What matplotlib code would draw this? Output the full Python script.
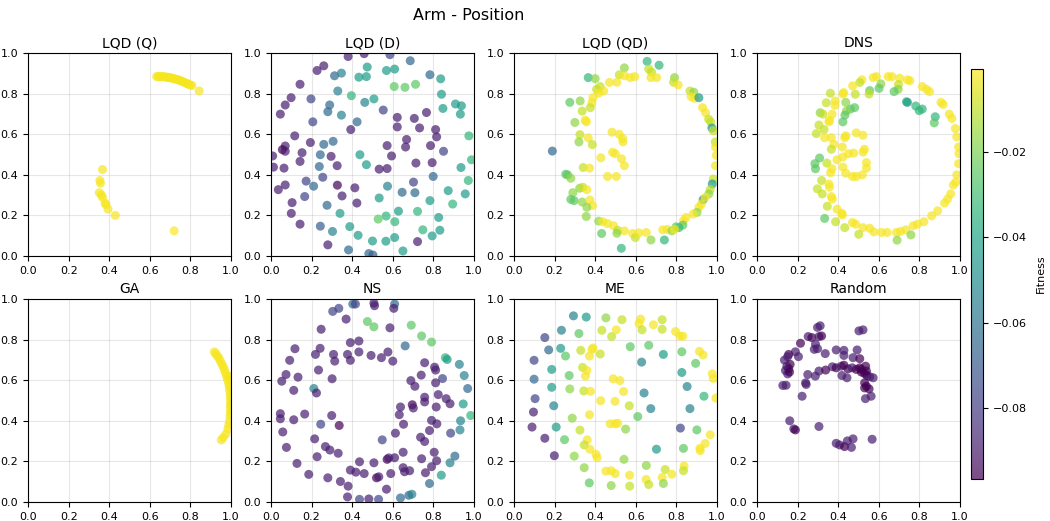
import numpy as np
import matplotlib
matplotlib.use("Agg")
from matplotlib import pyplot as plt

# fitness levels used for the archive points
Y, YG, LG, G, GT = -0.002, -0.009, -0.017, -0.025, -0.034
T, BT, B, V, P, DP = -0.044, -0.054, -0.064, -0.077, -0.089, -0.0965

titles = ["LQD (Q)", "LQD (D)", "LQD (QD)", "DNS", "GA", "NS", "ME", "Random"]

lqd_q = [
    (0.634, 0.884, Y), (0.642, 0.885, Y), (0.650, 0.884, Y), (0.658, 0.884, Y),
    (0.665, 0.883, Y), (0.672, 0.883, Y), (0.680, 0.882, Y), (0.688, 0.880, Y),
    (0.695, 0.879, Y), (0.702, 0.878, Y), (0.710, 0.876, Y), (0.718, 0.874, Y),
    (0.725, 0.872, Y), (0.732, 0.870, Y), (0.740, 0.868, Y), (0.748, 0.865, Y),
    (0.755, 0.862, Y), (0.762, 0.859, Y), (0.770, 0.856, Y), (0.778, 0.852, Y),
    (0.785, 0.849, Y), (0.792, 0.846, Y), (0.800, 0.842, Y), (0.807, 0.840, Y),
    (0.843, 0.813, Y),
    (0.367, 0.426, Y), (0.354, 0.372, Y), (0.357, 0.359, Y), (0.351, 0.312, Y),
    (0.362, 0.300, Y), (0.367, 0.289, Y), (0.380, 0.260, Y), (0.384, 0.253, Y),
    (0.394, 0.231, Y), (0.430, 0.200, Y), (0.720, 0.124, -0.0007),
]

lqd_d = [
    (0.380, 0.983, P), (0.459, 0.997, P), (0.586, 0.992, V), (0.686, 0.962, B),
    (0.227, 0.914, P), (0.260, 0.937, P), (0.313, 0.888, B), (0.347, 0.901, BT),
    (0.474, 0.931, T), (0.433, 0.881, T), (0.470, 0.884, T), (0.569, 0.914, T),
    (0.609, 0.921, T), (0.783, 0.893, B), (0.836, 0.873, T), (0.143, 0.846, P),
    (0.329, 0.813, BT), (0.396, 0.790, GT), (0.607, 0.835, G), (0.660, 0.831, G),
    (0.712, 0.846, G), (0.840, 0.797, T), (0.099, 0.780, P), (0.197, 0.774, V),
    (0.462, 0.757, BT), (0.507, 0.774, T), (0.070, 0.744, P), (0.289, 0.744, B),
    (0.280, 0.711, B), (0.347, 0.694, BT), (0.553, 0.719, V), (0.766, 0.707, P),
    (0.847, 0.727, T), (0.909, 0.749, T), (0.938, 0.740, T), (0.933, 0.699, T),
    (0.046, 0.699, P), (0.622, 0.683, P), (0.706, 0.678, P), (0.206, 0.661, V),
    (0.424, 0.661, B), (0.393, 0.623, P), (0.622, 0.636, P), (0.732, 0.631, P),
    (0.811, 0.623, P), (0.816, 0.587, P), (0.117, 0.592, P), (0.975, 0.592, GT),
    (0.194, 0.559, P), (0.260, 0.550, B), (0.306, 0.565, B), (0.668, 0.574, P),
    (0.663, 0.537, P), (0.572, 0.544, P), (0.786, 0.544, P), (0.850, 0.516, V),
    (0.070, 0.542, P), (0.056, 0.524, DP), (0.070, 0.516, P), (0.153, 0.509, P),
    (0.008, 0.493, P), (0.243, 0.499, B), (0.296, 0.491, P), (0.438, 0.499, T),
    (0.594, 0.493, P), (0.988, 0.474, GT), (0.012, 0.438, P), (0.064, 0.433, P),
    (0.143, 0.466, P), (0.238, 0.441, B), (0.326, 0.445, P), (0.470, 0.450, T),
    (0.533, 0.428, P), (0.572, 0.431, P), (0.714, 0.458, P), (0.794, 0.460, P),
    (0.936, 0.436, T), (0.799, 0.392, B), (0.255, 0.388, V), (0.173, 0.369, V),
    (0.972, 0.372, GT), (0.070, 0.350, P), (0.036, 0.327, P), (0.210, 0.344, B),
    (0.327, 0.349, DP), (0.413, 0.336, P), (0.574, 0.344, BT), (0.702, 0.364, V),
    (0.646, 0.314, B), (0.709, 0.312, B), (0.350, 0.296, P), (0.166, 0.293, V),
    (0.533, 0.286, T), (0.873, 0.322, T), (0.957, 0.306, T), (0.783, 0.273, T),
    (0.104, 0.263, P), (0.423, 0.261, P), (0.895, 0.256, GT), (0.276, 0.250, B),
    (0.100, 0.210, P), (0.340, 0.210, T), (0.628, 0.221, T), (0.722, 0.220, GT),
    (0.567, 0.197, GT), (0.528, 0.182, G), (0.143, 0.157, P), (0.243, 0.147, -0.068),
    (0.610, 0.169, GT), (0.826, 0.190, T), (0.388, 0.145, T), (0.303, 0.121, BT),
    (0.748, 0.129, GT), (0.832, 0.127, T), (0.429, 0.102, T), (0.794, 0.099, T),
    (0.609, 0.091, T), (0.280, 0.055, P), (0.500, 0.074, T), (0.566, 0.073, T),
    (0.722, 0.071, P), (0.382, 0.030, B), (0.482, 0.012, B), (0.502, 0.005, -0.068),
    (0.650, 0.025, T),
]

lqd_qd = [
    (0.656, 0.959, GT), (0.715, 0.940, GT), (0.544, 0.927, LG), (0.366, 0.879, GT),
    (0.400, 0.874, LG), (0.664, 0.921, YG), (0.678, 0.906, YG), (0.519, 0.893, YG),
    (0.544, 0.888, Y), (0.573, 0.879, Y), (0.595, 0.884, Y), (0.675, 0.879, Y),
    (0.703, 0.879, Y), (0.791, 0.879, LG), (0.786, 0.856, YG), (0.809, 0.843, Y),
    (0.507, 0.856, Y), (0.470, 0.855, Y), (0.425, 0.835, YG), (0.407, 0.821, YG),
    (0.442, 0.813, Y), (0.417, 0.802, Y), (0.867, 0.813, YG), (0.886, 0.807, LG),
    (0.873, 0.785, Y), (0.890, 0.777, Y), (0.911, 0.780, T), (0.275, 0.757, G),
    (0.326, 0.764, LG), (0.389, 0.780, Y), (0.384, 0.755, Y), (0.376, 0.731, YG),
    (0.336, 0.714, YG), (0.929, 0.731, Y), (0.944, 0.706, Y), (0.959, 0.674, YG),
    (0.969, 0.661, YG), (0.351, 0.669, Y), (0.357, 0.661, Y), (0.300, 0.658, LG),
    (0.975, 0.631, T), (0.982, 0.617, YG), (0.483, 0.610, Y), (0.519, 0.600, Y),
    (0.535, 0.579, Y), (0.537, 0.562, Y), (0.325, 0.598, YG), (0.366, 0.582, Y),
    (0.320, 0.562, LG), (0.386, 0.549, YG), (0.992, 0.562, YG), (0.993, 0.537, Y),
    (0.189, 0.517, B), (0.486, 0.511, Y), (0.499, 0.504, Y), (0.997, 0.496, Y),
    (0.428, 0.484, Y), (0.530, 0.479, Y), (0.544, 0.445, Y), (0.993, 0.445, Y),
    (0.341, 0.436, YG), (0.372, 0.433, Y), (0.255, 0.403, G), (0.264, 0.400, G),
    (0.280, 0.383, LG), (0.461, 0.392, Y), (0.504, 0.392, Y), (0.982, 0.379, YG),
    (0.977, 0.355, T), (0.967, 0.327, YG), (0.960, 0.306, LG), (0.324, 0.334, LG),
    (0.339, 0.339, YG), (0.359, 0.327, Y), (0.290, 0.312, LG), (0.280, 0.279, G),
    (0.296, 0.273, G), (0.336, 0.266, LG), (0.374, 0.276, Y), (0.387, 0.248, Y),
    (0.359, 0.240, LG), (0.932, 0.278, T), (0.942, 0.289, Y), (0.923, 0.256, Y),
    (0.911, 0.240, Y), (0.902, 0.215, LG), (0.883, 0.207, Y), (0.356, 0.195, LG),
    (0.848, 0.190, Y), (0.835, 0.174, Y), (0.832, 0.152, G), (0.812, 0.140, GT),
    (0.799, 0.144, G), (0.417, 0.172, LG), (0.438, 0.169, Y), (0.461, 0.160, Y),
    (0.491, 0.149, Y), (0.511, 0.127, YG), (0.544, 0.124, Y), (0.507, 0.112, LG),
    (0.432, 0.111, G), (0.585, 0.111, Y), (0.598, 0.091, YG), (0.615, 0.114, Y),
    (0.652, 0.116, Y), (0.675, 0.079, LG), (0.741, 0.079, GT), (0.733, 0.129, Y),
    (0.755, 0.131, Y), (0.778, 0.124, LG), (0.791, 0.131, Y), (0.529, 0.038, GT),
]

dns = [
    (0.572, 0.879, Y), (0.588, 0.884, Y), (0.646, 0.884, Y), (0.665, 0.884, Y),
    (0.703, 0.876, Y), (0.741, 0.868, Y), (0.753, 0.864, Y), (0.517, 0.868, Y),
    (0.506, 0.855, YG), (0.471, 0.838, Y), (0.610, 0.848, LG), (0.601, 0.826, G),
    (0.697, 0.845, YG), (0.695, 0.821, LG), (0.675, 0.810, G), (0.814, 0.835, Y),
    (0.835, 0.821, Y), (0.850, 0.810, Y), (0.361, 0.802, YG), (0.427, 0.805, Y),
    (0.423, 0.798, Y), (0.484, 0.797, YG), (0.555, 0.815, G), (0.552, 0.798, YG),
    (0.736, 0.760, GT), (0.741, 0.757, T), (0.782, 0.739, GT), (0.799, 0.716, GT),
    (0.814, 0.724, GT), (0.906, 0.757, Y), (0.917, 0.747, Y), (0.385, 0.764, Y),
    (0.341, 0.755, YG), (0.384, 0.742, Y), (0.437, 0.757, LG), (0.481, 0.731, G),
    (0.460, 0.724, G), (0.440, 0.714, LG), (0.311, 0.706, LG), (0.325, 0.699, YG),
    (0.370, 0.699, Y), (0.433, 0.694, G), (0.947, 0.699, Y), (0.960, 0.678, Y),
    (0.423, 0.661, G), (0.357, 0.669, Y), (0.354, 0.661, Y), (0.878, 0.686, GT),
    (0.873, 0.656, G), (0.305, 0.645, YG), (0.330, 0.623, YG), (0.977, 0.628, Y),
    (0.984, 0.587, Y), (0.292, 0.603, YG), (0.489, 0.607, Y), (0.522, 0.595, Y),
    (0.437, 0.592, Y), (0.432, 0.583, Y), (0.333, 0.583, Y), (0.366, 0.583, Y),
    (0.379, 0.550, Y), (0.366, 0.526, YG), (0.420, 0.537, Y), (0.529, 0.526, Y),
    (0.522, 0.512, Y), (0.993, 0.537, Y), (0.995, 0.504, Y), (0.451, 0.504, Y),
    (0.476, 0.507, Y), (0.423, 0.488, Y), (0.308, 0.483, G), (0.394, 0.474, Y),
    (0.285, 0.455, G), (0.344, 0.458, YG), (0.288, 0.430, G), (0.369, 0.430, Y),
    (0.423, 0.438, Y), (0.539, 0.460, Y), (0.539, 0.433, Y), (0.993, 0.455, Y),
    (0.362, 0.410, Y), (0.437, 0.408, Y), (0.470, 0.392, Y), (0.489, 0.392, Y),
    (0.519, 0.400, Y), (0.984, 0.400, Y), (0.318, 0.372, YG), (0.979, 0.364, Y),
    (0.967, 0.350, Y), (0.354, 0.354, Y), (0.357, 0.339, Y), (0.297, 0.331, YG),
    (0.321, 0.306, YG), (0.954, 0.306, Y), (0.939, 0.281, Y), (0.924, 0.261, Y),
    (0.366, 0.293, Y), (0.371, 0.281, Y), (0.346, 0.245, YG), (0.394, 0.231, Y),
    (0.418, 0.210, Y), (0.420, 0.202, Y), (0.890, 0.223, Y), (0.860, 0.198, Y),
    (0.333, 0.185, G), (0.387, 0.169, YG), (0.470, 0.165, Y), (0.486, 0.157, Y),
    (0.432, 0.140, YG), (0.522, 0.140, Y), (0.555, 0.137, Y), (0.575, 0.119, Y),
    (0.613, 0.116, Y), (0.641, 0.116, Y), (0.687, 0.116, Y), (0.707, 0.121, Y),
    (0.733, 0.129, Y), (0.769, 0.149, Y), (0.791, 0.157, Y), (0.822, 0.169, Y),
    (0.501, 0.107, YG), (0.690, 0.078, LG), (0.758, 0.104, LG),
]

ga = [
    (0.918, 0.739, Y), (0.925, 0.730, Y), (0.932, 0.720, Y), (0.940, 0.710, Y),
    (0.947, 0.695, Y), (0.955, 0.680, Y), (0.961, 0.667, Y), (0.967, 0.653, Y),
    (0.972, 0.637, Y), (0.978, 0.620, Y), (0.983, 0.603, Y), (0.988, 0.587, Y),
    (0.991, 0.570, Y), (0.993, 0.550, Y), (0.996, 0.530, Y), (0.997, 0.510, Y),
    (0.998, 0.490, Y), (0.997, 0.470, Y), (0.997, 0.450, Y), (0.995, 0.425, Y),
    (0.993, 0.400, Y), (0.989, 0.380, Y), (0.985, 0.360, Y), (0.975, 0.335, Y),
    (0.962, 0.318, Y), (0.952, 0.306, Y), (0.999, 0.600, Y), (0.999, 0.560, Y),
    (1.000, 0.520, Y), (1.000, 0.480, Y), (0.999, 0.440, Y), (0.990, 0.620, Y),
]

ns = [
    (0.403, 0.975, B), (0.416, 0.975, V), (0.507, 0.980, P), (0.510, 0.967, P),
    (0.609, 0.975, B), (0.605, 0.954, P), (0.334, 0.954, V), (0.304, 0.939, V),
    (0.370, 0.901, P), (0.475, 0.889, G), (0.507, 0.863, G), (0.586, 0.858, P),
    (0.691, 0.871, G), (0.742, 0.818, G), (0.791, 0.788, G), (0.247, 0.851, P),
    (0.391, 0.785, P), (0.433, 0.793, P), (0.661, 0.769, B), (0.118, 0.755, P),
    (0.242, 0.757, P), (0.219, 0.727, P), (0.308, 0.727, P), (0.377, 0.727, P),
    (0.433, 0.739, P), (0.493, 0.722, P), (0.544, 0.711, P), (0.576, 0.739, P),
    (0.092, 0.698, P), (0.314, 0.694, P), (0.391, 0.698, P), (0.600, 0.694, P),
    (0.859, 0.711, GT), (0.868, 0.702, T), (0.757, 0.686, P), (0.806, 0.664, P),
    (0.811, 0.650, P), (0.928, 0.678, BT), (0.234, 0.650, P), (0.074, 0.628, P),
    (0.133, 0.615, P), (0.740, 0.625, P), (0.845, 0.608, V), (0.952, 0.623, BT),
    (0.053, 0.595, P), (0.301, 0.607, P), (0.689, 0.598, P), (0.709, 0.570, P),
    (0.811, 0.587, P), (0.969, 0.559, B), (0.112, 0.550, P), (0.211, 0.559, BT),
    (0.224, 0.537, P), (0.824, 0.529, P), (0.757, 0.516, P), (0.757, 0.493, P),
    (0.863, 0.509, P), (0.882, 0.484, P), (0.947, 0.483, T), (0.638, 0.468, P),
    (0.696, 0.479, DP), (0.701, 0.463, P), (0.814, 0.468, P), (0.046, 0.435, P),
    (0.046, 0.410, P), (0.166, 0.433, P), (0.299, 0.426, P), (0.632, 0.430, P),
    (0.984, 0.426, GT), (0.112, 0.405, P), (0.245, 0.383, V), (0.336, 0.377, DP),
    (0.653, 0.383, P), (0.791, 0.402, P), (0.817, 0.385, P), (0.934, 0.400, BT),
    (0.058, 0.345, P), (0.613, 0.339, P), (0.781, 0.352, P), (0.885, 0.339, V),
    (0.931, 0.355, BT), (0.215, 0.311, P), (0.548, 0.306, V), (0.737, 0.319, P),
    (0.757, 0.298, P), (0.076, 0.269, P), (0.268, 0.273, P), (0.290, 0.256, P),
    (0.331, 0.240, P), (0.651, 0.245, P), (0.804, 0.245, P), (0.227, 0.223, P),
    (0.742, 0.213, P), (0.816, 0.203, P), (0.906, 0.226, B), (0.882, 0.193, BT),
    (0.128, 0.190, P), (0.436, 0.198, P), (0.507, 0.193, P), (0.572, 0.210, DP),
    (0.580, 0.217, P), (0.609, 0.218, P), (0.651, 0.169, P), (0.658, 0.149, P),
    (0.683, 0.154, P), (0.391, 0.157, P), (0.418, 0.147, P), (0.459, 0.140, P),
    (0.590, 0.140, P), (0.791, 0.174, P), (0.761, 0.144, P), (0.186, 0.136, P),
    (0.280, 0.119, P), (0.520, 0.119, DP), (0.531, 0.124, P), (0.839, 0.132, T),
    (0.342, 0.101, P), (0.380, 0.078, P), (0.781, 0.091, B), (0.569, 0.063, P),
    (0.377, 0.025, P), (0.436, 0.013, V), (0.482, 0.015, P), (0.530, 0.013, V),
    (0.638, 0.020, B), (0.679, 0.033, B), (0.694, 0.038, BT),
]

me = [
    (0.293, 0.917, BT), (0.356, 0.911, T), (0.453, 0.907, LG), (0.532, 0.898, YG),
    (0.624, 0.901, Y), (0.616, 0.879, Y), (0.631, 0.848, YG), (0.687, 0.873, Y),
    (0.730, 0.898, YG), (0.730, 0.851, YG), (0.234, 0.846, BT), (0.320, 0.830, G),
    (0.433, 0.846, YG), (0.504, 0.848, Y), (0.481, 0.815, YG), (0.796, 0.840, Y),
    (0.817, 0.817, Y), (0.832, 0.817, Y), (0.152, 0.810, V), (0.171, 0.749, B),
    (0.230, 0.757, T), (0.254, 0.719, G), (0.329, 0.747, YG), (0.390, 0.759, Y),
    (0.384, 0.752, Y), (0.372, 0.719, Y), (0.425, 0.729, YG), (0.573, 0.765, G),
    (0.664, 0.772, G), (0.736, 0.727, T), (0.827, 0.740, G), (0.914, 0.742, Y),
    (0.932, 0.724, Y), (0.099, 0.698, V), (0.629, 0.689, BT), (0.895, 0.683, G),
    (0.338, 0.663, YG), (0.359, 0.648, Y), (0.186, 0.653, T), (0.352, 0.620, Y),
    (0.272, 0.623, G), (0.827, 0.638, T), (0.977, 0.631, Y), (0.982, 0.608, Y),
    (0.099, 0.605, B), (0.489, 0.607, Y), (0.522, 0.598, Y), (0.186, 0.565, T),
    (0.275, 0.557, LG), (0.853, 0.569, BT), (0.344, 0.547, YG), (0.377, 0.545, Y),
    (0.540, 0.544, Y), (0.641, 0.537, BT), (0.936, 0.521, GT), (0.995, 0.512, Y),
    (0.104, 0.509, V), (0.427, 0.499, Y), (0.498, 0.496, Y), (0.196, 0.474, BT),
    (0.568, 0.474, YG), (0.674, 0.460, BT), (0.867, 0.460, BT), (0.096, 0.443, P),
    (0.372, 0.430, Y), (0.610, 0.421, G), (0.287, 0.413, LG), (0.474, 0.385, Y),
    (0.498, 0.385, Y), (0.511, 0.388, Y), (0.089, 0.369, P), (0.208, 0.369, T),
    (0.550, 0.359, LG), (0.325, 0.354, YG), (0.820, 0.364, V), (0.901, 0.355, G),
    (0.967, 0.331, Y), (0.152, 0.314, P), (0.249, 0.307, G), (0.361, 0.306, Y),
    (0.346, 0.281, YG), (0.374, 0.260, Y), (0.942, 0.288, Y), (0.916, 0.264, Y),
    (0.918, 0.253, Y), (0.835, 0.264, G), (0.702, 0.260, T), (0.404, 0.235, Y),
    (0.410, 0.218, Y), (0.199, 0.228, P), (0.297, 0.226, LG), (0.542, 0.210, LG),
    (0.346, 0.169, LG), (0.652, 0.180, LG), (0.453, 0.152, Y), (0.479, 0.154, Y),
    (0.499, 0.140, Y), (0.570, 0.132, Y), (0.745, 0.160, YG), (0.778, 0.137, Y),
    (0.730, 0.121, Y), (0.838, 0.177, Y), (0.835, 0.154, YG), (0.651, 0.111, Y),
    (0.664, 0.086, YG), (0.736, 0.091, LG), (0.371, 0.094, G), (0.479, 0.081, LG),
    (0.570, 0.078, YG),
]

random_pts = [
    (0.298, 0.860, P), (0.311, 0.868, P), (0.502, 0.843, P), (0.522, 0.848, P),
    (0.252, 0.815, P), (0.270, 0.810, DP), (0.305, 0.815, P), (0.318, 0.818, DP),
    (0.214, 0.782, DP), (0.288, 0.777, P), (0.282, 0.752, P), (0.298, 0.755, P),
    (0.390, 0.749, P), (0.428, 0.747, P), (0.493, 0.749, P), (0.189, 0.740, P),
    (0.336, 0.731, P), (0.156, 0.727, DP), (0.151, 0.716, P), (0.204, 0.716, P),
    (0.428, 0.722, P), (0.473, 0.711, P), (0.506, 0.706, DP), (0.135, 0.699, P),
    (0.163, 0.678, DP), (0.147, 0.669, P), (0.156, 0.656, DP), (0.140, 0.648, P),
    (0.151, 0.631, P), (0.160, 0.640, DP), (0.305, 0.645, P), (0.338, 0.650, DP),
    (0.371, 0.666, P), (0.390, 0.661, DP), (0.415, 0.669, P), (0.428, 0.674, DP),
    (0.448, 0.656, DP), (0.469, 0.661, P), (0.489, 0.653, DP), (0.506, 0.661, DP),
    (0.535, 0.669, DP), (0.514, 0.640, DP), (0.530, 0.633, DP), (0.541, 0.623, DP),
    (0.555, 0.617, P), (0.572, 0.612, P), (0.250, 0.628, P), (0.287, 0.620, P),
    (0.418, 0.623, P), (0.443, 0.612, P), (0.239, 0.587, P), (0.242, 0.579, P),
    (0.127, 0.574, P), (0.143, 0.575, P), (0.530, 0.587, DP), (0.539, 0.570, DP),
    (0.552, 0.557, DP), (0.530, 0.562, DP), (0.222, 0.521, P), (0.562, 0.521, P),
    (0.534, 0.509, P), (0.161, 0.400, P), (0.181, 0.360, P), (0.189, 0.355, DP),
    (0.305, 0.372, P), (0.390, 0.289, P), (0.407, 0.281, P), (0.431, 0.273, DP),
    (0.445, 0.301, P), (0.473, 0.311, P), (0.465, 0.269, P), (0.567, 0.309, P),
    (0.514, 0.653, DP), (0.539, 0.645, DP),
]

panels = [lqd_q, lqd_d, lqd_qd, dns, ga, ns, me, random_pts]

all_fit = [f for pts in panels for _, _, f in pts]
vmin, vmax = min(all_fit), max(all_fit)

fig = plt.figure(figsize=(10.5, 5.21), dpi=100)
fig.suptitle("Arm - Position", fontsize=11.5, x=0.446, y=0.985)

lefts = [0.0267, 0.2581, 0.4895, 0.7210]
bottoms = [0.5086, 0.0365]
w, h = 0.1933, 0.3896

sc = None
for i, (name, pts) in enumerate(zip(titles, panels)):
    ax = fig.add_axes([lefts[i % 4], bottoms[i // 4], w, h])
    x, y, f = zip(*pts)
    sc = ax.scatter(x, y, c=f, cmap="viridis", vmin=vmin, vmax=vmax,
                    s=42, alpha=0.7, linewidths=0)
    ax.set_xlim(0, 1)
    ax.set_ylim(0, 1)
    ax.set_xticks(np.arange(0, 1.01, 0.2))
    ax.set_yticks(np.arange(0, 1.01, 0.2))
    ax.tick_params(labelsize=8)
    ax.grid(True, alpha=0.3)
    ax.set_axisbelow(True)
    ax.set_title(name, fontsize=10, pad=4)

cax = fig.add_axes([0.9248, 0.0806, 0.0114, 0.787])
cbar = fig.colorbar(sc, cax=cax)
cbar.set_ticks([-0.08, -0.06, -0.04, -0.02])
cbar.ax.tick_params(labelsize=8)
cbar.set_label("Fitness", fontsize=8)
cbar.ax.yaxis.set_label_coords(5.4, 0.5)

fig.savefig("out.png", dpi=100)
